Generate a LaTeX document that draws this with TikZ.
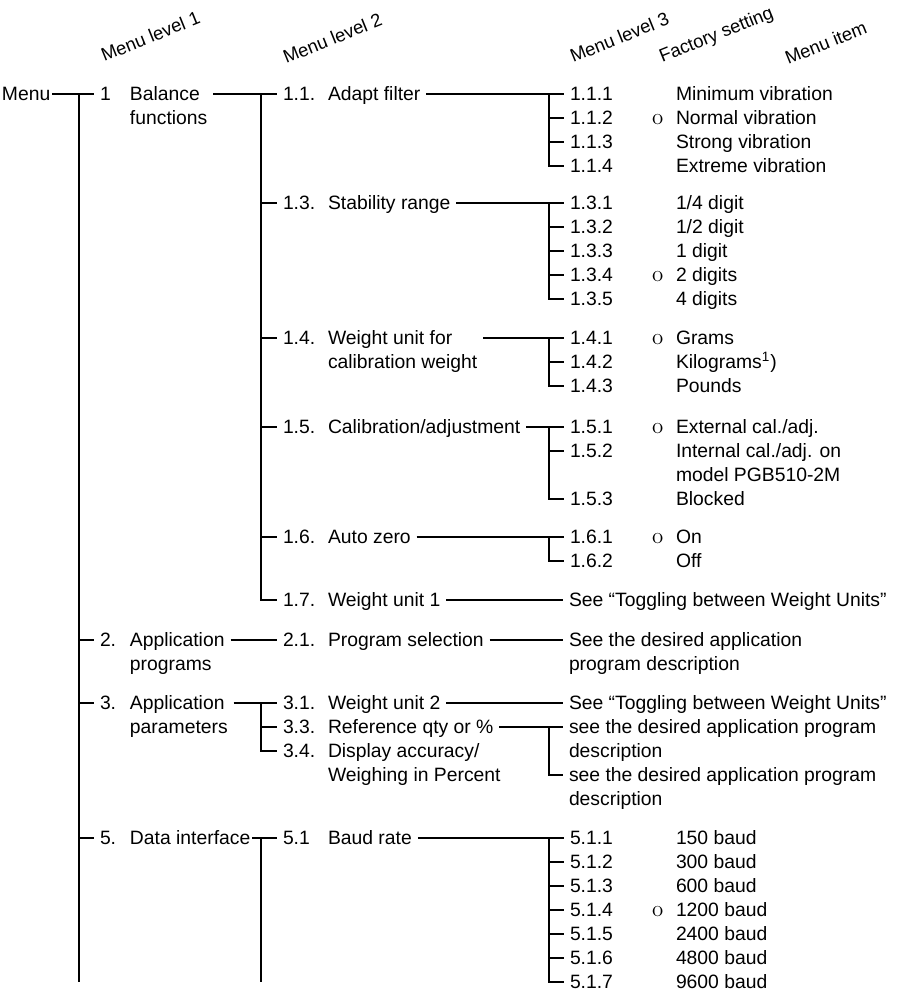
\documentclass[tikz,border=0pt]{standalone}
\usepackage{fontspec}
\setsansfont{Liberation Sans}
\usetikzlibrary{calc}

%% two lines, baseline on the first one
\newcommand{\twoline}[2]{\begin{tabular}[t]{@{}l@{}}#1\\#2\end{tabular}}

\begin{document}
\begin{tikzpicture}[
    x=0.02cm, y=-0.02cm,
    txt/.style={anchor=west, inner sep=0pt, outer xsep=3.4pt, xshift=-3.4pt,
      text height=7.9pt, text depth=0pt,
      font=\sffamily\fontsize{11}{13.6}\selectfont},
    tight/.style={outer xsep=1pt, xshift=2.4pt},
    head/.style={anchor=base west, inner sep=0pt, rotate=22,
      font=\sffamily\fontsize{10.5}{13}\selectfont},
    fac/.style={txt, font=\rmfamily\fontsize{13}{13.6}\selectfont},
    link/.style={line width=0.6pt}
  ]
  \useasboundingbox (0,0) rectangle (912,992);

  %% trunk columns
  \coordinate (t1) at (79,0);
  \coordinate (t2) at (261,0);
  \coordinate (t3) at (549,0);
  \coordinate (bot) at (0,982);

  %% ---- column headings ----
  \node[head] (h1) at (104,62) {Menu level 1};
  \node[head] (h2) at (286,64) {Menu level 2};
  \node[head] (h3) at (573,63) {Menu level 3};
  \node[head] (h4) at (662,63) {Factory setting};
  \node[head] (h5) at (788,65) {Menu item};

  %% ---- menu level 1 ----
  \node[txt, tight] (menu) at (2,94) {Menu};
  \node[txt] (b1n) at (100,94)  {1};
  \node[txt] (b1)  at (130,94)  {\twoline{Balance}{functions}};
  \node[txt] (b2n) at (100,640) {2.};
  \node[txt] (b2)  at (130,640) {\twoline{Application}{programs}};
  \node[txt] (b3n) at (100,703) {3.};
  \node[txt] (b3)  at (130,703) {\twoline{Application}{parameters}};
  \node[txt] (b5n) at (100,838) {5.};
  \node[txt, tight] (b5) at (130,838) {Data interface};

  %% ---- menu level 2 ----
  \foreach \nm/\num/\y/\t in {c11/1.1./94/Adapt filter,
      c13/1.3./203/Stability range,
      c14/1.4./338/{\twoline{Weight unit for}{calibration weight}},
      c15/1.5./427/{Calibration/adjustment},
      c16/1.6./537/Auto zero,
      c17/1.7./600/Weight unit 1,
      c21/2.1./640/Program selection,
      c31/3.1./703/Weight unit 2,
      c33/3.3./727/Reference qty or \%,
      c34/3.4./751/{\twoline{Display accuracy/}{Weighing in Percent}},
      c51/5.1/838/Baud rate}{
    \node[txt] (\nm n) at (283,\y) {\num};
    \node[txt] (\nm)   at (328,\y) {\t};
  }

  %% ---- menu level 3 ----
  \foreach \k/\y/\t in {1/94/Minimum vibration, 2/118/Normal vibration,
      3/142/Strong vibration, 4/166/Extreme vibration}{
    \node[txt] (d11\k) at (570,\y) {1.1.\k};
    \node[txt] at (676,\y) {\t};
  }
  \foreach \k/\y/\t in {1/203/{1/4 digit}, 2/227/{1/2 digit}, 3/251/1 digit,
      4/275/2 digits, 5/299/4 digits}{
    \node[txt] (d13\k) at (570,\y) {1.3.\k};
    \node[txt] at (676,\y) {\t};
  }
  \foreach \k/\y/\t in {1/338/Grams, 2/362/Kilograms\textsuperscript{1}), 3/386/Pounds}{
    \node[txt] (d14\k) at (570,\y) {1.4.\k};
    \node[txt] at (676,\y) {\t};
  }
  \foreach \k/\y/\t in {1/427/{External cal./adj.},
      2/451/{\twoline{Internal cal./adj. on}{model PGB510-2M}}, 3/499/Blocked}{
    \node[txt] (d15\k) at (570,\y) {1.5.\k};
    \node[txt] at (676,\y) {\t};
  }
  \foreach \k/\y/\t in {1/537/On, 2/561/Off}{
    \node[txt] (d16\k) at (570,\y) {1.6.\k};
    \node[txt] at (676,\y) {\t};
  }
  \foreach \k/\t in {1/150, 2/300, 3/600, 4/1200, 5/2400, 6/4800, 7/9600}{
    \node[txt] (d51\k) at (570,838+24*\k-24) {5.1.\k};
    \node[txt] at (676,838+24*\k-24) {\t\ baud};
  }

  %% factory settings
  \foreach \y in {118,275,338,427,537,910}{
    \node[fac] at (652,\y) {o};
  }

  %% references to other chapters
  \node[txt] (e17)  at (569,600) {See “Toggling between Weight Units”};
  \node[txt] (e21)  at (569,640) {\twoline{See the desired application}{program description}};
  \node[txt] (e31)  at (569,703) {See “Toggling between Weight Units”};
  \node[txt] (e33a) at (569,727) {\twoline{see the desired application program}{description}};
  \node[txt] (e33b) at (569,775) {\twoline{see the desired application program}{description}};

  %% ---- connectors, level 1 ----
  \draw[link] (menu.east) -- (b1n.west);
  \draw[link] (menu.east -| t1) -- (bot -| t1);
  \foreach \b in {b2n,b3n,b5n}{
    \draw[link] (\b.west -| t1) -- (\b.west);
  }

  %% ---- connectors, level 2 ----
  \draw[link] (b1.east) -- (c11n.west);
  \draw[link] (c11n.west -| t2) |- (c17n.west);
  \foreach \c in {c13n,c14n,c15n,c16n}{
    \draw[link] (\c.west -| t2) -- (\c.west);
  }
  \draw[link] (b2.east) -- (c21n.west);
  \draw[link] (b3.east) -- (c31n.west);
  \draw[link] (c31n.west -| t2) |- (c34n.west);
  \draw[link] (c33n.west -| t2) -- (c33n.west);
  \draw[link] (b5.east) -- (c51n.west);
  \draw[link] (c51n.west -| t2) -- (bot -| t2);

  %% ---- connectors, level 3 ----
  \foreach \c/\first/\last/\mid in {c11/d111/d114/{d112,d113},
      c13/d131/d135/{d132,d133,d134},
      c14/d141/d143/{d142},
      c15/d151/d153/{d152},
      c51/d511/d517/{d512,d513,d514,d515,d516}}{
    \draw[link] (\c.east) -- (\first.west);
    \draw[link] (\first.west -| t3) |- (\last.west);
    \foreach \m in \mid{
      \draw[link] (\m.west -| t3) -- (\m.west);
    }
  }
  \draw[link] (c16.east) -- (d161.west);
  \draw[link] (d161.west -| t3) |- (d162.west);
  \draw[link] (c17.east) -- (e17.west);
  \draw[link] (c21.east) -- (e21.west);
  \draw[link] (c31.east) -- (e31.west);
  \draw[link] (c33.east) -- (e33a.west);
  \draw[link] (e33a.west -| t3) |- (e33b.west);

\end{tikzpicture}
\end{document}
